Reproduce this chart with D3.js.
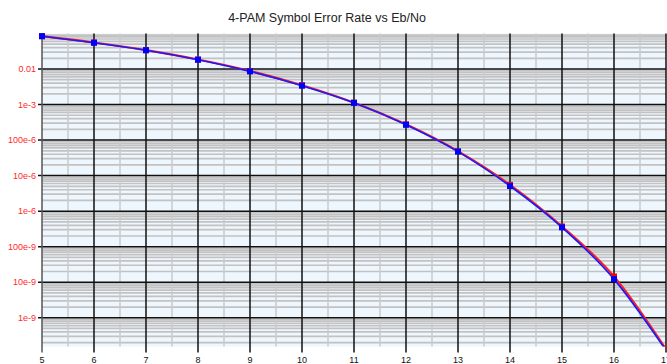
<!DOCTYPE html>
<html>
<head>
<meta charset="utf-8">
<script src="https://d3js.org/d3.v7.min.js"></script>
<style>
	body { margin: 0; background: #fff; }
	text { font-family: "Liberation Sans", Arial, sans-serif; }
</style>
</head>
<body>
<script>
//Eb/No values in dB
var ebno = [5, 6, 7, 8, 9, 10, 11, 12, 13, 14, 15, 16, 17];
//theoretical symbol error rate (red)
var theorySER = [0.084, 0.0557, 0.034, 0.0185, 0.0088, 0.0035, 0.00113, 0.000277, 0.0000485, 0.0000055, 0.00000037, 0.0000000145, 0.00000000013];
//simulated symbol error rate (blue)
var simSER = [0.084, 0.055, 0.0338, 0.0183, 0.0086, 0.0034, 0.00112, 0.00027, 0.0000475, 0.0000051, 0.00000035, 0.0000000122, 0.00000000012];
//y tick values and their labels
var yTicks = [1e-2, 1e-3, 1e-4, 1e-5, 1e-6, 1e-7, 1e-8, 1e-9];
var yLabels = ["0.01", "1e-3", "100e-6", "10e-6", "1e-6", "100e-9", "10e-9", "1e-9"];
var xTicks = [5, 6, 7, 8, 9, 10, 11, 12, 13, 14, 15, 16, 17];

window.onload = function(){
	var w = 667, h = 364;
	var left = 42, right = 666, top = 33.5, bottom = 346.5;

	var svg = d3.select("body")
		.append("svg")
		.attr("width", w)
		.attr("height", h);

	var x = d3.scaleLinear()
		.domain([5, 17])
		.range([left, right]);

	var y = d3.scaleLog()
		.domain([1.55e-10, 0.1])
		.range([bottom, top]);

	//plot background
	svg.append("rect")
		.attr("x", left)
		.attr("y", top)
		.attr("width", right - left)
		.attr("height", bottom - top)
		.style("fill", "#eef6fe");

	//minor horizontal lines (2..9 in each decade)
	var minorY = [];
	for (var e = -10; e <= -2; e++){
		for (var m = 2; m <= 9; m++){
			var v = m * Math.pow(10, e);
			if (v >= y.domain()[0] && v <= y.domain()[1]) minorY.push(v);
		}
	}
	svg.selectAll(".minorY")
		.data(minorY)
		.enter()
		.append("line")
		.attr("class", "minorY")
		.attr("x1", left)
		.attr("x2", right)
		.attr("y1", function(d){ return y(d); })
		.attr("y2", function(d){ return y(d); })
		.style("stroke", "#c2c2c2")
		.style("stroke-width", 1.7);

	//minor vertical lines at half dB
	var minorX = d3.range(5.5, 17, 1);
	svg.selectAll(".minorX")
		.data(minorX)
		.enter()
		.append("line")
		.attr("class", "minorX")
		.attr("x1", function(d){ return x(d); })
		.attr("x2", function(d){ return x(d); })
		.attr("y1", top)
		.attr("y2", bottom)
		.style("stroke", "#cacaca")
		.style("stroke-width", 1.5);

	//major grid
	svg.selectAll(".majorY")
		.data(yTicks)
		.enter()
		.append("line")
		.attr("class", "majorY")
		.attr("x1", left - 4)
		.attr("x2", right)
		.attr("y1", function(d){ return y(d); })
		.attr("y2", function(d){ return y(d); })
		.style("stroke", "#111")
		.style("stroke-width", 1.5);

	svg.selectAll(".majorX")
		.data(xTicks)
		.enter()
		.append("line")
		.attr("class", "majorX")
		.attr("x1", function(d){ return x(d); })
		.attr("x2", function(d){ return x(d); })
		.attr("y1", top)
		.attr("y2", bottom + 6)
		.style("stroke", function(d){ return d == 5 ? "#555" : "#111"; })
		.style("stroke-width", 1.5);

	//y labels
	svg.selectAll(".ylabel")
		.data(yTicks)
		.enter()
		.append("text")
		.attr("class", "ylabel")
		.attr("x", left - 6)
		.attr("y", function(d){ return y(d) + 3; })
		.attr("text-anchor", "end")
		.style("font-size", "9px")
		.style("fill", "#ff2a2a")
		.text(function(d, i){ return yLabels[i]; });

	//x labels
	svg.selectAll(".xlabel")
		.data(xTicks)
		.enter()
		.append("text")
		.attr("class", "xlabel")
		.attr("x", function(d){ return x(d); })
		.attr("y", 363)
		.attr("text-anchor", "middle")
		.style("font-size", "9px")
		.style("fill", "#111")
		.text(function(d){ return d; });

	//title
	svg.append("text")
		.attr("x", 327)
		.attr("y", 22)
		.attr("text-anchor", "middle")
		.style("font-size", "12.5px")
		.style("fill", "#222")
		.text("4-PAM Symbol Error Rate vs Eb/No");

	//clip for the series
	svg.append("clipPath")
		.attr("id", "plotClip")
		.append("rect")
		.attr("x", left - 5)
		.attr("y", top - 5)
		.attr("width", right - left + 10)
		.attr("height", bottom - top + 5);

	var plot = svg.append("g").attr("clip-path", "url(#plotClip)");

	var line = d3.line()
		.x(function(d){ return x(d[0]); })
		.y(function(d){ return y(d[1]); })
		.curve(d3.curveMonotoneX);

	var series = [
		{ values: d3.zip(ebno, theorySER), color: "#ff2020", width: 2.2 },
		{ values: d3.zip(ebno, simSER), color: "#1a1aff", width: 1.6 }
	];

	series.forEach(function(s){
		plot.append("path")
			.datum(s.values)
			.attr("d", line)
			.style("fill", "none")
			.style("stroke", s.color)
			.style("stroke-width", s.width);
	});

	series.forEach(function(s){
		plot.selectAll(null)
			.data(s.values)
			.enter()
			.append("rect")
			.attr("x", function(d){ return x(d[0]) - 3; })
			.attr("y", function(d){ return y(d[1]) - 3; })
			.attr("width", 6)
			.attr("height", 6)
			.style("fill", s.color == "#ff2020" ? "#ff0000" : "#0000ff");
	});
};
</script>
</body>
</html>
